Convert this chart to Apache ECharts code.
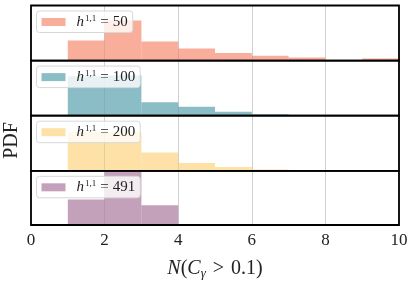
<!DOCTYPE html>
<html>
<head>
<meta charset="utf-8">
<script src="https://cdn.jsdelivr.net/npm/echarts@6/dist/echarts.min.js"></script>
<style>html,body{margin:0;padding:0;background:#fff}#c{width:415px;height:281px}</style>
</head>
<body>
<div id="c"></div>
<script>
// Bin left edges (bins of width 1)
const binEdges50  = [1, 2, 3, 4, 5, 6, 7, 8, 9];
const values50    = [0.182, 0.364, 0.173, 0.109, 0.070, 0.043, 0.027, 0.006, 0.019];
const binEdges100 = [1, 2, 3, 4, 5, 6];
const values100   = [0.358, 0.364, 0.122, 0.082, 0.036, 0.013];
const binEdges200 = [1, 2, 3, 4, 5, 6];
const values200   = [0.352, 0.352, 0.167, 0.070, 0.034, 0.012];
const binEdges491 = [1, 2, 3, 4];
const values491   = [0.236, 0.494, 0.182, 0.010];
const labels = ['50', '100', '200', '491'];
const xTicks = [0, 2, 4, 6, 8, 10];

const colors = ['rgba(245,120,90,0.6)', 'rgba(60,145,158,0.6)', 'rgba(253,205,108,0.6)', 'rgba(157,98,140,0.6)'];
const edges = [binEdges50, binEdges100, binEdges200, binEdges491];
const vals = [values50, values100, values200, values491];

const W = 415, H = 281;
const gl = 31, gr = 16, top0 = 5.5, ph = 55.1;
const serif = 'Liberation Serif';

const grids = [], xAxes = [], yAxes = [], series = [], legends = [];
for (let i = 0; i < 4; i++) {
  const last = i === 3;
  grids.push({left: gl, right: gr, top: top0 + i * ph, height: ph, show: true,
    borderColor: '#000', borderWidth: 1.8, backgroundColor: 'transparent', z: 5, containLabel: false});
  xAxes.push({type: 'value', gridIndex: i, min: 0, max: 10, interval: 2,
    axisLine: {show: false}, axisTick: {show: false},
    axisLabel: {show: last, fontFamily: serif, fontSize: 17, color: '#222', margin: 7,
      formatter: v => xTicks.indexOf(v) >= 0 ? String(v) : ''},
    splitLine: {show: true, lineStyle: {color: '#d0d0d0', width: 1}},
    name: last ? '{i|N}{n|(}{i|C}{sub|γ}{op|>}{n|0.1)}' : '',
    nameLocation: 'middle', nameGap: 33,
    nameTextStyle: {rich: {
      i: {fontFamily: serif, fontStyle: 'italic', fontSize: 20, color: '#222', lineHeight: 22},
      n: {fontFamily: serif, fontSize: 20, color: '#222', lineHeight: 22},
      op: {fontFamily: serif, fontSize: 20, color: '#222', lineHeight: 22, padding: [0, 7, 0, 7]},
      sub: {fontFamily: serif, fontStyle: 'italic', fontSize: 13, color: '#222', lineHeight: 13, verticalAlign: 'bottom'}
    }}
  });
  yAxes.push({type: 'value', gridIndex: i, min: 0, max: 0.5,
    axisLine: {show: false}, axisTick: {show: false}, axisLabel: {show: false}, splitLine: {show: false}});
  const color = colors[i];
  series.push({
    type: 'custom', name: 'h' + labels[i], xAxisIndex: i, yAxisIndex: i,
    itemStyle: {color: color},
    encode: {x: [0, 1], y: 2},
    data: edges[i].map((e, k) => [e, e + 1, vals[i][k]]),
    renderItem: function (params, api) {
      const p0 = api.coord([api.value(0), api.value(2)]);
      const p1 = api.coord([api.value(1), 0]);
      return {type: 'rect', shape: {x: p0[0], y: p0[1], width: p1[0] - p0[0], height: p1[1] - p0[1]},
        style: {fill: color}};
    }
  });
  legends.push({
    data: ['h' + labels[i]], left: 36.5, top: top0 + i * ph + 5.5, orient: 'vertical',
    itemWidth: 24, itemHeight: 8, icon: 'rect',
    backgroundColor: 'rgba(255,255,255,0.8)', borderColor: '#d8d8d8', borderWidth: 1, borderRadius: 3,
    padding: [3, 5, 3, 5],
    formatter: name => '{i|h}{s|1,1}{eq|=}{n|' + name.slice(1) + '}',
    textStyle: {padding: [0, 0, 0, 6], rich: {
      i: {fontFamily: serif, fontStyle: 'italic', fontSize: 15, color: '#222', lineHeight: 16},
      s: {fontFamily: serif, fontSize: 9, color: '#222', lineHeight: 9, verticalAlign: 'top', padding: [0, 0, 0, 1]},
      eq: {fontFamily: serif, fontSize: 15, color: '#222', lineHeight: 16, padding: [0, 4, 0, 4]},
      n: {fontFamily: serif, fontSize: 15, color: '#222', lineHeight: 16}
    }}
  });
}

const chart = echarts.init(document.getElementById('c'), null, {renderer: 'canvas', width: W, height: H});
chart.setOption({
  animation: false,
  backgroundColor: '#fff',
  grid: grids, xAxis: xAxes, yAxis: yAxes, series: series, legend: legends,
  graphic: [{type: 'text', left: 2, top: 'middle', rotation: Math.PI / 2, z: 10,
    style: {text: 'PDF', fontFamily: serif, fontSize: 20, fill: '#222',
      textAlign: 'center', textVerticalAlign: 'middle'}}]
});
</script>
</body>
</html>
